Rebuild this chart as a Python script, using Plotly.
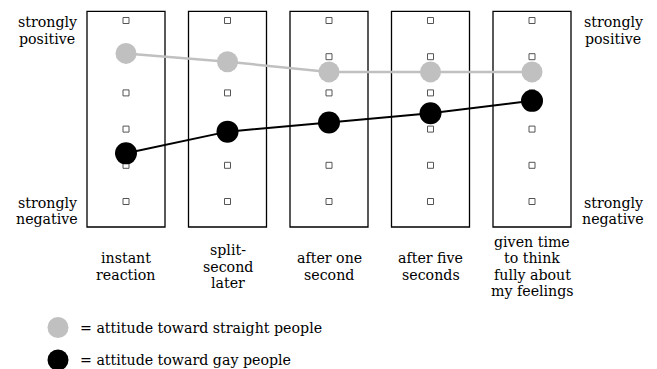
import plotly.graph_objects as go

categories = ["instant<br>reaction", "split-<br>second<br>later", "after one<br>second",
              "after five<br>seconds", "given time<br>to think<br>fully about<br>my feelings"]
scale_levels = [1, 2, 3, 4, 5, 6]
straight_attitude = [5.09, 4.86, 4.58, 4.58, 4.58]
gay_attitude = [2.33, 2.93, 3.18, 3.44, 3.78]
legend_labels = ["= attitude toward straight people", "= attitude toward gay people"]
scale_end_labels = ["strongly<br>positive", "strongly<br>negative"]

OFF = 8  # default page body margin
W, H = 657 - OFF, 369 - OFF
FONT = "DejaVu Serif"
FS = 14.2
GRAY = "#c0c0c0"
BLACK = "#000000"

# pixel geometry (window coords) -> axis ranges
x0_px, dx_px = 126.0 - OFF, 101.5
y1_px, dy_px = 201.5 - OFF, 36.2
xr = [-x0_px / dx_px, (W - x0_px) / dx_px]
yr = [1 - (H - y1_px) / dy_px, 1 + y1_px / dy_px]

def py(px):
    return 1 - (px - OFF) / H

def px_x(px):
    return (px - OFF) / W

idx = list(range(len(categories)))
fig = go.Figure()

# scale squares
sx, sy = [], []
for i in idx:
    for lv in scale_levels:
        sx.append(i)
        sy.append(lv)
fig.add_trace(go.Scatter(x=sx, y=sy, mode="markers",
                         marker=dict(symbol="square-open", size=6, color="#555555",
                                     line=dict(width=1, color="#555555")),
                         hoverinfo="skip", showlegend=False))

fig.add_trace(go.Scatter(x=idx, y=straight_attitude, mode="lines+markers",
                         line=dict(color=GRAY, width=2.5),
                         marker=dict(size=21, color=GRAY),
                         showlegend=False))
fig.add_trace(go.Scatter(x=idx, y=gay_attitude, mode="lines+markers",
                         line=dict(color=BLACK, width=2),
                         marker=dict(size=22, color=BLACK),
                         showlegend=False))

shapes = []
half_w = 39.0 / dx_px
top_v = 1 + (201.5 - 11.3) / dy_px
bot_v = 1 - (227.0 - 201.5) / dy_px
for i in idx:
    shapes.append(dict(type="rect", xref="x", yref="y", x0=i - half_w, x1=i + half_w,
                       y0=bot_v, y1=top_v, line=dict(color="black", width=1.3),
                       fillcolor="rgba(0,0,0,0)", layer="below"))

# legend circles
for col, cy in [(GRAY, 327.5), (BLACK, 360.0)]:
    shapes.append(dict(type="circle", xref="paper", yref="paper",
                       xsizemode="pixel", ysizemode="pixel",
                       xanchor=px_x(58), yanchor=py(cy),
                       x0=-10.5, x1=10.5, y0=-10.5, y1=10.5,
                       fillcolor=col, line=dict(width=0)))

annotations = []
def add_text(text, xpx, baseline_px, xanchor="center"):
    annotations.append(dict(text=text, xref="paper", yref="paper",
                            x=px_x(xpx), y=py(baseline_px - 0.346 * FS),
                            xanchor=xanchor, yanchor="middle", showarrow=False,
                            font=dict(family=FONT, size=FS, color="black")))

# category labels
spacing = 16.6
center_base = 271.5
for i, cat in enumerate(categories):
    lines = cat.split("<br>")
    n = len(lines)
    for j, ln in enumerate(lines):
        b = center_base + (j - (n - 1) / 2) * spacing
        add_text(ln, 126.0 + i * dx_px, b)

# scale end labels
for xc in (47, 613):
    for lbl, (b0, b1) in zip(scale_end_labels, [(27.1, 43.7), (207.5, 224.1)]):
        l1, l2 = lbl.split("<br>")
        add_text(l1, xc, b0)
        add_text(l2, xc, b1)

# legend texts
for lbl, b in zip(legend_labels, [333.3, 365.0]):
    add_text(lbl, 78.3, b, xanchor="left")

fig.update_layout(
    width=W, height=H, margin=dict(l=0, r=0, t=0, b=0),
    paper_bgcolor="white", plot_bgcolor="white",
    font=dict(family=FONT),
    xaxis=dict(range=xr, visible=False, fixedrange=True),
    yaxis=dict(range=yr, visible=False, fixedrange=True),
    shapes=shapes, annotations=annotations, showlegend=False,
)
fig.write_html("out.html")
